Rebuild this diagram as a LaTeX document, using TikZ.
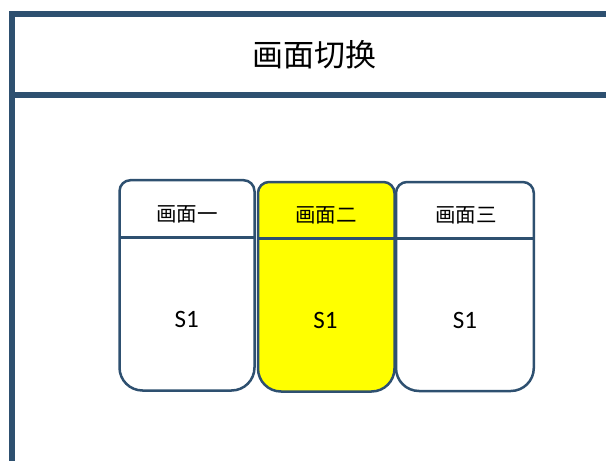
\documentclass[tikz,border=0pt]{standalone}
\usepackage{fontspec}
\setmainfont{Carlito}
\newfontfamily\cjk{Noto Sans CJK SC}
\definecolor{frameblue}{RGB}{46,80,112}
\definecolor{hiyellow}{RGB}{255,255,0}
\tikzset{
  frameline/.style={draw=frameblue,line width=6.3pt},
  boxline/.style={draw=frameblue,line width=2.5pt,line join=round},
  titletext/.style={font=\cjk\fontsize{31}{36}\selectfont,inner sep=0pt},
  headtext/.style={font=\cjk\fontsize{20.5}{24}\selectfont,inner sep=0pt},
  bodytext/.style={font=\fontsize{25}{30}\selectfont,inner sep=0pt}
}
% #1 name, #2 L, #3 R, #4 T, #5 B, #6 divider, #7 fill
\newcommand{\screenbox}[7]{%
  \path[boxline,fill=#7] (#2,#5+23) -- (#2,#4-11)
    arc[start angle=180,end angle=90,radius=11] -- (#3-11,#4)
    arc[start angle=90,end angle=0,radius=11] -- (#3,#5+23)
    arc[start angle=0,end angle=-90,radius=23] -- (#2+23,#5)
    arc[start angle=270,end angle=180,radius=23] -- cycle;
  \coordinate (#1-dl) at (#2,#6);
  \coordinate (#1-dr) at (#3,#6);
  \draw[boxline] (#1-dl) -- (#1-dr);
}
\begin{document}
\begin{tikzpicture}[x=1pt,y=1pt]
\useasboundingbox (0,0) rectangle (606,-461);
% frame
\coordinate (fbl) at (12.2,-461);
\coordinate (ftl) at (12.2,-11);
\coordinate (ftr) at (606,-14.2);
\coordinate (fml) at (9,-95);
\coordinate (fmr) at (606,-95);
\draw[frameline,line cap=butt] (fbl) -- (ftl);
\draw[frameline] (9,-14.2) -- (ftr);
\draw[frameline,line width=6.8pt] (fml) -- (fmr);
\node[titletext] (title) at (314.7,-55) {画面切换};
% boxes
\screenbox{b1}{119.5}{254.5}{-180.2}{-390.5}{-237.5}{white}
\screenbox{b3}{396}{533.8}{-182}{-391}{-238.5}{white}
\screenbox{b2}{258}{394.5}{-182}{-391.5}{-238.5}{hiyellow}
\node[headtext] (h1) at (187,-214.5) {画面一};
\node[headtext] (h2) at (325.8,-215.5) {画面二};
\node[headtext] (h3) at (465.8,-215.5) {画面三};
\node[bodytext] (s1) at (186.7,-319) {S1};
\node[bodytext] (s2) at (325.5,-320.3) {S1};
\node[bodytext] (s3) at (465,-320.3) {S1};
\end{tikzpicture}
\end{document}
